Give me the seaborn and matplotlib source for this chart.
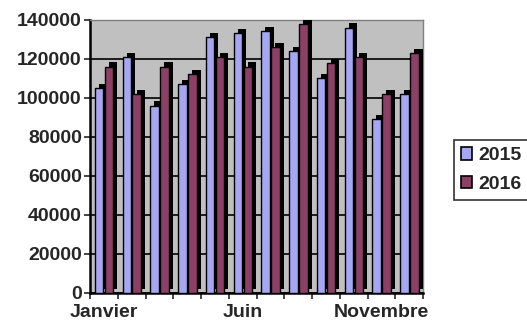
import numpy as np
import pandas as pd
import seaborn as sns
import matplotlib.pyplot as plt
import matplotlib.patheffects as pe

months = ['Janvier', 'Février', 'Mars', 'Avril', 'Mai', 'Juin', 'Juillet',
          'Août', 'Septembre', 'Octobre', 'Novembre', 'Décembre']
shown_labels = ['Janvier', '', '', '', '', 'Juin', '', '', '', '', 'Novembre', '']
sales_2015 = [105000, 121000, 96000, 107000, 131000, 133000, 134000, 124000, 110000, 136000, 89000, 102000]
sales_2016 = [116000, 102000, 116000, 112000, 121000, 116000, 126000, 138000, 118000, 121000, 102000, 123000]
years = ['2015', '2016']

df = pd.DataFrame({
    'mois': months * 2,
    'valeur': sales_2015 + sales_2016,
    'annee': [years[0]] * 12 + [years[1]] * 12,
})

sns.set_style('white')
plt.rcParams['font.family'] = ['Liberation Sans', 'DejaVu Sans']

fig = plt.figure(figsize=(5.27, 3.24), dpi=100)
ax = fig.add_axes([0.171, 0.096, 0.632, 0.843])
ax.set_facecolor('#C0C0C0')

sns.barplot(data=df, x='mois', y='valeur', hue='annee', order=months,
            palette=['#9999FF', '#993366'], edgecolor='black', linewidth=1.0,
            width=0.72, gap=0.15, ax=ax, zorder=3)

# fake excel 3d depth with a black shadow behind each bar
for bar in ax.patches:
    bar.set_path_effects([pe.SimplePatchShadow(offset=(3, 3), shadow_rgbFace='black', alpha=1),
                          pe.Normal()])

ax.set_ylim(0, 140000)
ax.set_yticks(np.arange(0, 140001, 20000))
ax.yaxis.grid(True, color='black', linewidth=1.2, zorder=0)
ax.set_axisbelow(True)
ax.set_xlim(-0.5, 11.5)
ax.set_xticks(range(12))
ax.set_xticklabels(shown_labels)
ax.set_xticks(np.arange(-0.5, 12, 1), minor=True)
ax.tick_params(axis='x', which='major', length=0, pad=8)
ax.tick_params(axis='x', which='minor', length=4, width=1.2, direction='out', bottom=True)
ax.tick_params(axis='y', length=4, width=1.2, direction='out', left=True, pad=2)
for lab in ax.get_xticklabels() + ax.get_yticklabels():
    lab.set_fontweight('bold')
    lab.set_fontsize(14)

ax.set_xlabel('')
ax.set_ylabel('')
for side in ['left', 'bottom']:
    ax.spines[side].set_color('black')
    ax.spines[side].set_linewidth(1.8)
for side in ['top', 'right']:
    ax.spines[side].set_color('#808080')
    ax.spines[side].set_linewidth(1)

leg = ax.legend(loc='center left', bbox_to_anchor=(444 / 527, 0.475),
                bbox_transform=fig.transFigure, frameon=True,
                fancybox=False, edgecolor='black', handlelength=0.6, handleheight=0.6,
                handletextpad=0.3, borderpad=0.35, labelspacing=0.6,
                prop={'weight': 'bold', 'size': 14})
leg.get_frame().set_linewidth(1.2)
for h in leg.legend_handles:
    h.set_edgecolor('black')
    h.set_linewidth(1.2)
    h.set_path_effects([])

fig.savefig('out.png', dpi=100)
